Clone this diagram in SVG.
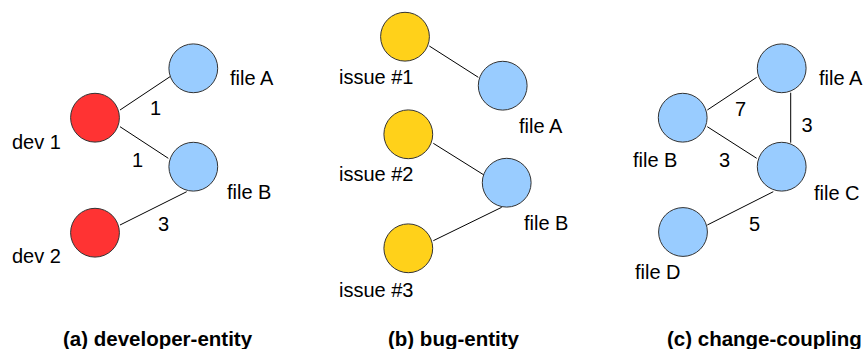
<svg xmlns="http://www.w3.org/2000/svg" width="865" height="349" viewBox="0 0 865 349">
<style>
.n{stroke:#333333;stroke-width:1}
.dev{fill:#FF3333}
.file{fill:#99CCFF}
.iss{fill:#FFD11A}
.e{stroke:#000000;stroke-width:1;fill:none}
text{font-family:"Liberation Sans",Arial,sans-serif;font-size:20px;fill:#000000}
.cap{font-weight:bold;font-size:20.5px}
</style>
<rect width="865" height="349" fill="#ffffff"/>
<g id="connectors">
<line class="e" x1="120" y1="110" x2="170" y2="76.7"/>
<line class="e" x1="120" y1="126.7" x2="168.3" y2="158.3"/>
<line class="e" x1="120" y1="225" x2="186.7" y2="191.7"/>
<line class="e" x1="429.3" y1="46" x2="478.3" y2="77.3"/>
<line class="e" x1="433.3" y1="143.3" x2="486.7" y2="176.7"/>
<line class="e" x1="433.3" y1="240.7" x2="501.7" y2="207.3"/>
<line class="e" x1="707.3" y1="110" x2="756.7" y2="77.3"/>
<line class="e" x1="707.3" y1="126.7" x2="756.7" y2="158.3"/>
<line class="e" x1="790.7" y1="92.7" x2="790.7" y2="142.7"/>
<line class="e" x1="707.3" y1="225" x2="773.3" y2="191.7"/>
<text x="150" y="115">1</text>
<text x="132" y="166.5">1</text>
<text x="158" y="231">3</text>
<text x="735" y="116">7</text>
<text x="801.5" y="131.5">3</text>
<text x="719" y="166.5">3</text>
<text x="749" y="230.5">5</text>
</g>
<g id="a-dev1"><circle class="n dev" cx="95" cy="117.7" r="24.4"/><text x="12" y="149">dev 1</text></g>
<g id="a-dev2"><circle class="n dev" cx="95" cy="232.7" r="24.4"/><text x="12" y="263">dev 2</text></g>
<g id="a-fileA"><circle class="n file" cx="193.3" cy="68.3" r="24.4"/><text x="230" y="84.5">file A</text></g>
<g id="a-fileB"><circle class="n file" cx="193.3" cy="166.7" r="24.4"/><text x="227" y="199">file B</text></g>
<g id="b-issue1"><circle class="n iss" cx="405" cy="36.7" r="24.4"/><text x="339" y="84.3">issue #1</text></g>
<g id="b-issue2"><circle class="n iss" cx="408.3" cy="134.3" r="24.4"/><text x="339" y="181">issue #2</text></g>
<g id="b-issue3"><circle class="n iss" cx="408.3" cy="248.3" r="24.4"/><text x="339" y="296.7">issue #3</text></g>
<g id="b-fileA"><circle class="n file" cx="502.7" cy="85.7" r="24.4"/><text x="519" y="132.7">file A</text></g>
<g id="b-fileB"><circle class="n file" cx="506.7" cy="182.7" r="24.4"/><text x="524" y="230">file B</text></g>
<g id="c-fileA"><circle class="n file" cx="781.7" cy="68.3" r="24.4"/><text x="819" y="85">file A</text></g>
<g id="c-fileB"><circle class="n file" cx="682.7" cy="117.7" r="24.4"/><text x="633" y="166.7">file B</text></g>
<g id="c-fileC"><circle class="n file" cx="781.7" cy="166.7" r="24.4"/><text x="814" y="199.5">file C</text></g>
<g id="c-fileD"><circle class="n file" cx="683" cy="232" r="24.4"/><text x="635" y="278.5">file D</text></g>
<g id="captions">
<text class="cap" x="63" y="346">(a) developer-entity</text>
<text class="cap" x="388" y="346">(b) bug-entity</text>
<text class="cap" x="667" y="346">(c) change-coupling</text>
</g>
</svg>
